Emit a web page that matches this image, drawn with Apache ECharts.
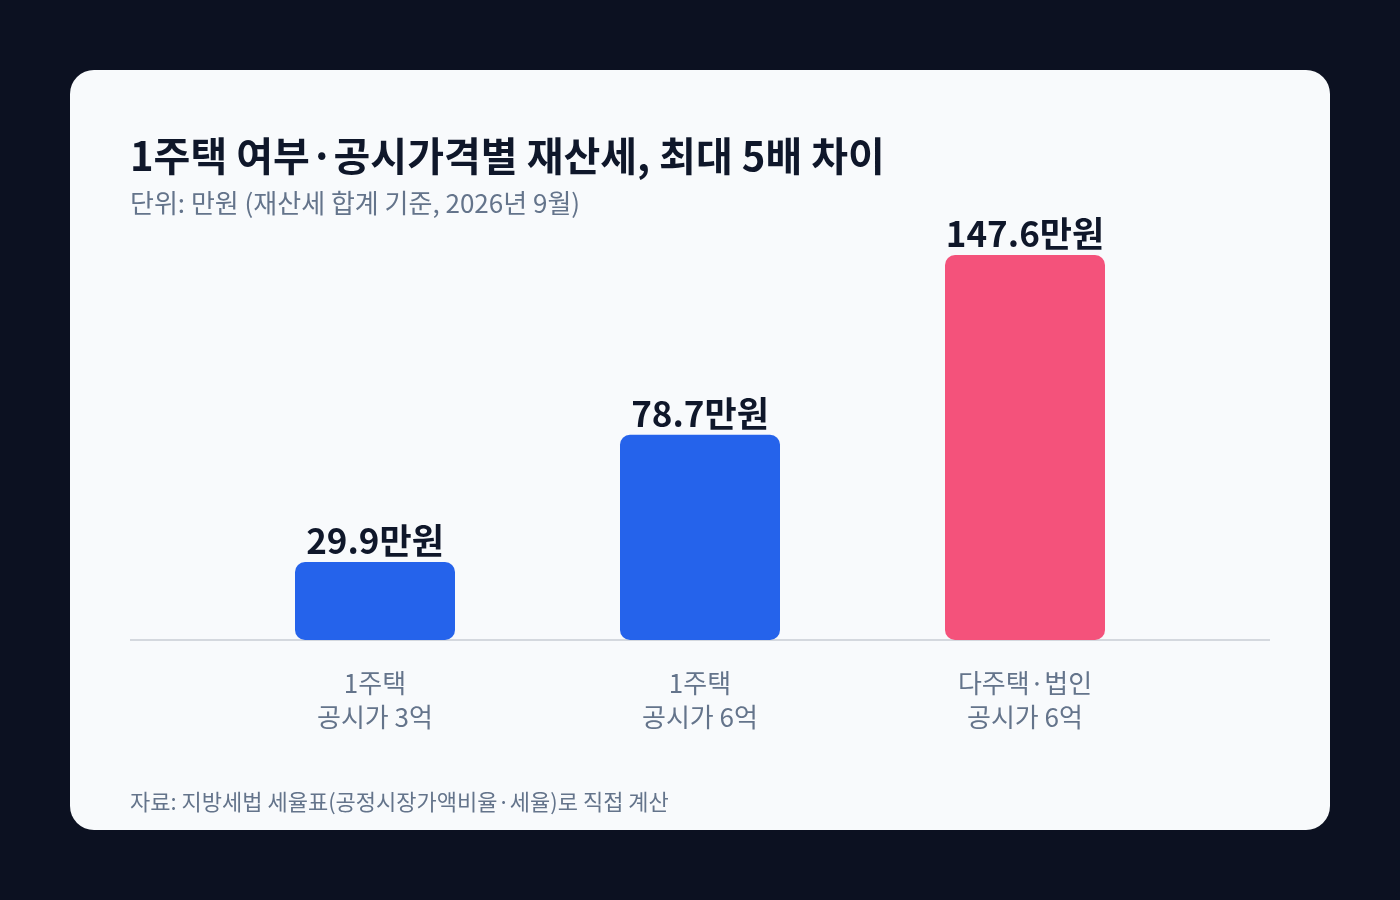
<!DOCTYPE html>
<html><head><meta charset="utf-8">
<script src="https://cdn.jsdelivr.net/npm/echarts@6/dist/echarts.min.js"></script>
<style>html,body{margin:0;padding:0;background:#0c1121;}#c{width:1400px;height:900px;}</style>
</head><body><div id="c"></div>
<script>
const categories = ['1주택\n공시가 3억', '1주택\n공시가 6억', '다주택·법인\n공시가 6억'];
const values = [29.9, 78.7, 147.6];
const barColors = ['#2563eb', '#2563eb', '#f4527b'];
const unit = '만원';

const FONT = '"Noto Sans CJK KR","Noto Sans",sans-serif';
const chart = echarts.init(document.getElementById('c'));
const gridTop = 255, gridBottom = 260;
chart.setOption({
  backgroundColor: '#0c1121',
  animation: false,
  graphic: [
    {type:'rect', z:-10, shape:{x:70,y:70,width:1260,height:760,r:24}, style:{fill:'#f8fafc'}},
    {type:'line', z:1, shape:{x1:130,y1:900-gridBottom,x2:1270,y2:900-gridBottom}, style:{stroke:'#d4d8de',lineWidth:2}}
  ],
  title: [
    {text:'1주택 여부·공시가격별 재산세, 최대 5배 차이', left:130, top:136, padding:0,
     textStyle:{fontFamily:FONT,fontSize:40,fontWeight:'bold',color:'#0f172a'}},
    {text:'단위: 만원 (재산세 합계 기준, 2026년 9월)', left:130, top:190, padding:0,
     textStyle:{fontFamily:FONT,fontSize:26,fontWeight:'normal',color:'#64748b'}},
    {text:'자료: 지방세법 세율표(공정시장가액비율·세율)로 직접 계산', left:130, top:791, padding:0,
     textStyle:{fontFamily:FONT,fontSize:22,fontWeight:'normal',color:'#64748b'}}
  ],
  grid: {left:212.5, right:212.5, top:gridTop, bottom:gridBottom},
  xAxis: {type:'category', data:categories,
    axisLine:{show:false}, axisTick:{show:false},
    axisLabel:{fontFamily:FONT,fontSize:26,color:'#64748b',lineHeight:34,margin:26}},
  yAxis: {type:'value', min:0, max:147.6, show:false, splitLine:{show:false}},
  series: [{
    type:'bar', barWidth:160,
    data: values.map((v,i)=>({value:v, itemStyle:{color:barColors[i]}})),
    itemStyle:{borderRadius:10},
    label:{show:true, position:'top', distance:4, formatter:p=>p.value+unit,
      fontFamily:FONT,fontSize:35,fontWeight:'bold',color:'#0f172a'}
  }]
});
</script></body></html>
